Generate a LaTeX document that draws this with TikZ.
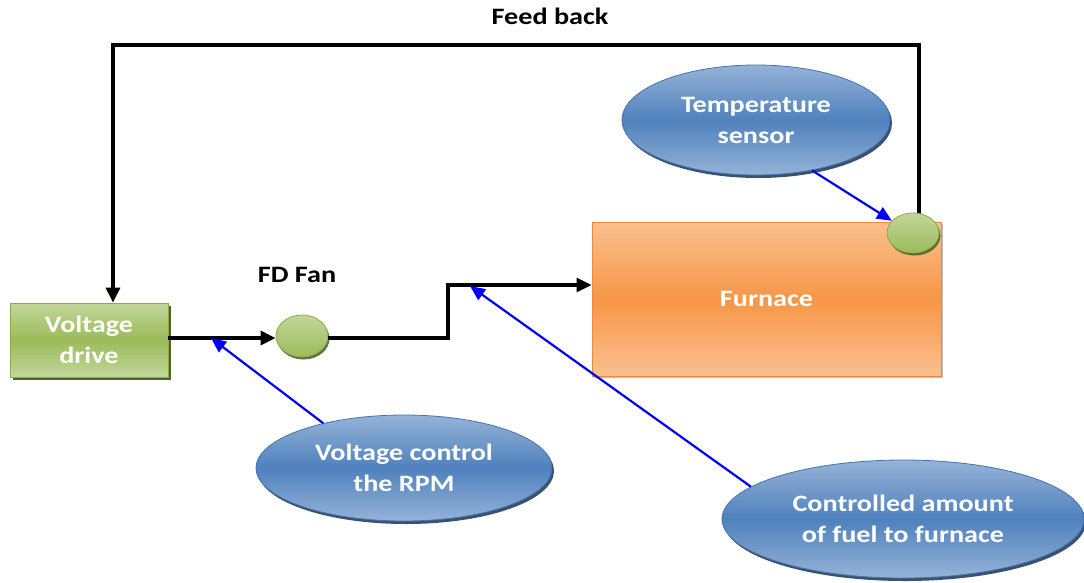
\documentclass[tikz,border=0pt]{standalone}
\usepackage{fontspec}
\setmainfont{Carlito}[FakeStretch=1.2]
\usetikzlibrary{arrows.meta,shadows,shapes.geometric}
\definecolor{bluelight}{HTML}{95B3D7}
\definecolor{bluemid}{HTML}{4F81BD}
\definecolor{blueedge}{HTML}{4473B0}
\definecolor{blueshadow}{HTML}{243F60}
\definecolor{greenlight}{HTML}{C3D69B}
\definecolor{greenmid}{HTML}{9BBB59}
\definecolor{greenedge}{HTML}{8AAA4C}
\definecolor{greenshadow}{HTML}{4F6228}
\definecolor{orangelight}{HTML}{FAC090}
\definecolor{orangemid}{HTML}{F79646}
\definecolor{orangeedge}{HTML}{F08A3A}
\definecolor{fuelblue}{HTML}{0000FF}
\tikzset{
  bluebubble/.style={ellipse, inner sep=0pt, align=center, text=white,
    top color=bluelight, bottom color=bluelight, middle color=bluemid,
    draw=blueedge, line width=0.8pt,
    drop shadow={shadow xshift=2pt, shadow yshift=-3pt, fill=blueshadow, opacity=0.9}},
  greenbox/.style={rectangle, inner sep=0pt, align=center, text=white,
    top color=greenlight, bottom color=greenlight, middle color=greenmid,
    draw=greenedge, line width=0.8pt,
    drop shadow={shadow xshift=3pt, shadow yshift=-3pt, fill=greenshadow, opacity=1}},
  greendot/.style={ellipse, inner sep=0pt,
    top color=greenlight, bottom color=greenmid,
    draw=greenedge, line width=0.8pt,
    drop shadow={shadow xshift=1.5pt, shadow yshift=-2.5pt, fill=greenshadow, opacity=0.9}},
  orangebox/.style={rectangle, inner sep=0pt, align=center, text=white,
    top color=orangelight, bottom color=orangelight, middle color=orangemid,
    draw=orangeedge, line width=1pt,
    drop shadow={shadow xshift=2pt, shadow yshift=-2pt, fill=black, opacity=0.25}},
  flow/.style={line width=3.2pt, draw=black, -{Triangle[length=15pt,width=14pt]}},
  flowplain/.style={line width=3.2pt, draw=black},
  hint/.style={line width=2.2pt, draw=fuelblue, -{Triangle[length=15pt,width=13pt]}},
  caption/.style={text=black}
}
\begin{document}
\begin{tikzpicture}[x=1pt,y=-1pt, font=\fontsize{23.5}{31}\selectfont\bfseries]
\useasboundingbox (0,0) rectangle (1084,582);

% nodes
\node[greenbox, minimum width=158pt, minimum height=74pt] (vd) at (89,340) {Voltage\\drive};
\node[greendot, minimum width=52pt, minimum height=42pt] (fan) at (302,336) {};
\node[orangebox, minimum width=349pt, minimum height=154pt] (furn) at (766.5,299) {Furnace};
\node[bluebubble, minimum width=268pt, minimum height=110pt] (temp) at (756,120) {Temperature\\sensor};
\node[bluebubble, minimum width=296pt, minimum height=106pt] (vc) at (404,468) {Voltage control\\the RPM};
\node[bluebubble, minimum width=362pt, minimum height=118pt] (ca) at (903,519) {Controlled amount\\of fuel to furnace};
\node[caption] (fbl) at (550,16) {Feed back};
\node[caption] (fanl) at (297,275) {FD Fan};

% routing coordinates
\coordinate (fbR) at (919,45);
\coordinate (fbL) at (113,45);
\coordinate (stepA) at (448,338);
\coordinate (stepB) at (448,285);
\coordinate (rpmpt) at (211,338);
\coordinate (fuelpt) at (470,286);

% black flow lines
\draw[flow] (fan.east |- stepA) -- (stepA) -- (stepB) -- (stepB -| furn.west);
\draw[flow] (vd.east |- stepA) -- (stepA -| fan.west);
\draw[flow] (919,222) -- (fbR) -- (fbL) -- (fbL |- vd.north);

% sensor dot on furnace corner
\node[greendot, minimum width=52pt, minimum height=40pt] (ts) at (913,233) {};
\draw[flowplain] (919,45) -- (ts.north -| fbR);

% blue hint arrows
\draw[hint] (temp.-42) -- (ts.150);
\draw[hint] (vc.151.5) -- (rpmpt);
\draw[hint] (ca.168) -- (fuelpt);
\end{tikzpicture}
\end{document}
